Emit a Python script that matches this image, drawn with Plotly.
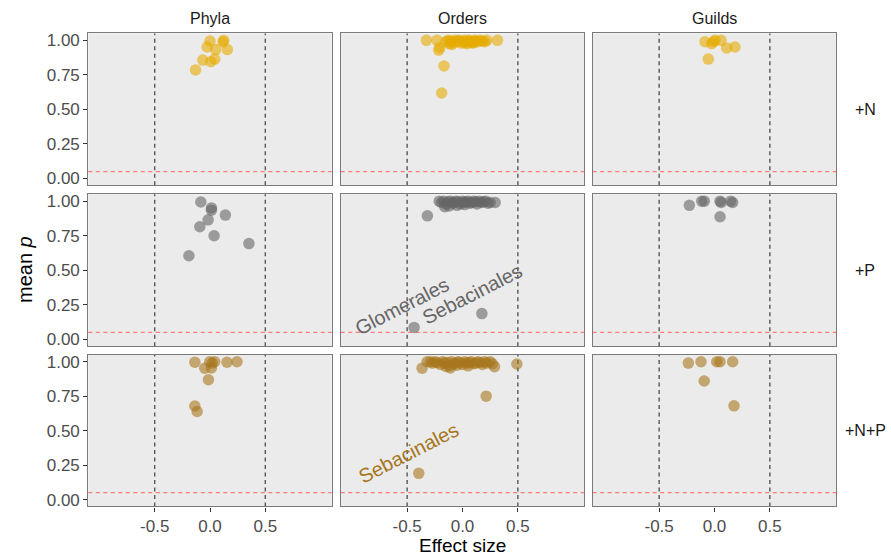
import plotly.graph_objects as go
from plotly.subplots import make_subplots

# ---------------- data ----------------
columns = ["Phyla", "Orders", "Guilds"]
rows = ["+N", "+P", "+N+P"]
row_colors = ["#E6AB02", "#666666", "#A6761D"]

phyla_N_x = [0.00, 0.124, -0.026, 0.118, 0.052, 0.157, -0.065, 0.043, 0.007, -0.131]
phyla_N_y = [0.995, 1.0, 0.952, 0.988, 0.933, 0.933, 0.857, 0.864, 0.845, 0.786]

orders_N_x = [-0.326, -0.23, -0.206, -0.215, -0.167, -0.188, -0.095, 0.316, -0.15, -0.13, -0.11,
              -0.09, -0.07, -0.06, -0.04, -0.03, -0.01, 0.0, 0.02, 0.03, 0.05, 0.06, 0.08, 0.09,
              0.11, 0.12, 0.14, 0.16, 0.18, 0.2, 0.22, -0.12, 0.04, 0.1]
orders_N_y = [1.0, 1.0, 0.947, 0.928, 0.814, 0.619, 0.97, 1.0, 0.99, 1.0, 0.995,
              0.985, 1.0, 0.99, 0.995, 1.0, 0.98, 0.99, 1.0, 0.985, 0.995, 1.0, 0.99, 0.98,
              1.0, 0.995, 0.99, 1.0, 0.995, 0.99, 1.0, 0.975, 0.975, 0.985]

guilds_N_x = [-0.086, -0.026, 0.005, 0.059, -0.01, 0.11, 0.185, -0.056]
guilds_N_y = [0.99, 0.976, 1.0, 1.0, 0.99, 0.945, 0.952, 0.864]

phyla_P_x = [-0.083, 0.013, 0.013, -0.017, -0.092, 0.139, 0.037, 0.352, -0.191]
phyla_P_y = [0.994, 0.951, 0.935, 0.865, 0.815, 0.899, 0.75, 0.693, 0.605]

orders_P_x = [-0.317, -0.437, 0.175, -0.21, -0.19, -0.17, -0.15, -0.13, -0.11, -0.09, -0.08,
              -0.06, -0.04, -0.02, 0.0, 0.01, 0.03, 0.05, 0.07, 0.08, 0.1, 0.12, 0.13, 0.15,
              0.17, 0.19, 0.21, 0.23, 0.25, 0.295, -0.16, -0.12, -0.05, 0.02]
orders_P_y = [0.894, 0.086, 0.186, 1.0, 0.99, 1.0, 0.98, 0.995, 1.0, 0.985, 0.99,
              1.0, 0.995, 0.98, 1.0, 0.99, 0.995, 1.0, 0.985, 0.99, 1.0, 0.995, 0.98, 1.0,
              0.99, 0.995, 1.0, 0.985, 0.99, 0.99, 0.96, 0.965, 0.97, 0.975]

guilds_P_x = [-0.227, -0.115, -0.092, 0.05, 0.06, 0.146, 0.164, 0.05]
guilds_P_y = [0.97, 1.0, 1.0, 1.0, 0.99, 1.0, 0.99, 0.887]

phyla_NP_x = [-0.137, -0.002, 0.043, 0.013, -0.047, 0.154, 0.244, -0.014, -0.137, -0.116, 0.02]
phyla_NP_y = [0.996, 1.0, 1.0, 0.955, 0.953, 0.996, 1.0, 0.869, 0.679, 0.639, 0.99]

orders_NP_x = [-0.365, -0.32, 0.289, 0.491, -0.11, 0.214, -0.395, -0.29, -0.27, -0.25, -0.23,
               -0.2, -0.18, -0.16, -0.14, -0.12, -0.1, -0.08, -0.06, -0.04, -0.02, 0.0, 0.02,
               0.04, 0.06, 0.08, 0.1, 0.12, 0.14, 0.16, 0.18, 0.2, 0.22, 0.25, 0.27, -0.15,
               -0.05, 0.05]
orders_NP_y = [0.953, 1.0, 0.964, 0.983, 0.955, 0.75, 0.19, 1.0, 0.99, 1.0, 0.995,
               0.98, 1.0, 0.99, 0.995, 0.97, 1.0, 0.985, 0.99, 1.0, 0.995, 0.98, 1.0,
               0.99, 0.995, 1.0, 0.985, 0.99, 1.0, 0.995, 0.98, 1.0, 0.99, 1.0, 0.985, 0.965,
               0.975, 0.97]

guilds_NP_x = [-0.236, -0.122, 0.02, 0.05, 0.164, -0.093, 0.176]
guilds_NP_y = [0.99, 1.0, 1.0, 1.0, 1.0, 0.86, 0.68]

panel_data = [
    [(phyla_N_x, phyla_N_y), (orders_N_x, orders_N_y), (guilds_N_x, guilds_N_y)],
    [(phyla_P_x, phyla_P_y), (orders_P_x, orders_P_y), (guilds_P_x, guilds_P_y)],
    [(phyla_NP_x, phyla_NP_y), (orders_NP_x, orders_NP_y), (guilds_NP_x, guilds_NP_y)],
]

# labelled outliers: (row, col, text, x, y)
labels = [
    (1, 1, "Glomerales", -0.542, 0.239),
    (1, 1, "Sebacinales", 0.088, 0.325),
    (2, 1, "Sebacinales", -0.488, 0.34),
]

effect_thresholds = [-0.5, 0.5]
p_threshold = 0.05
x_ticks = [-0.5, 0.0, 0.5]
y_ticks = [0.0, 0.25, 0.5, 0.75, 1.0]

# ---------------- layout geometry ----------------
W, H = 891, 559
col_px = [(88.3, 331.7), (340.7, 584.3), (592.7, 836.3)]
row_px = [(31.7, 185.0), (194.0, 347.3), (356.0, 509.0)]
FONT = "Liberation Sans, Arial, Helvetica, sans-serif"

fig = make_subplots(rows=3, cols=3)

for r in range(3):
    for c in range(3):
        xs, ys = panel_data[r][c]
        fig.add_trace(go.Scatter(
            x=xs, y=ys, mode="markers",
            marker=dict(size=11.5, color=row_colors[r], opacity=0.6, line=dict(width=0)),
            showlegend=False, hoverinfo="x+y"), row=r + 1, col=c + 1)
        idx = r * 3 + c + 1
        xref = "x" if idx == 1 else f"x{idx}"
        yref = "y" if idx == 1 else f"y{idx}"
        for t in effect_thresholds:
            fig.add_shape(type="line", xref=xref, yref=f"{yref} domain", x0=t, x1=t, y0=0, y1=1,
                          line=dict(color="#555555", width=1.4, dash="4px,3.5px"), layer="below")
        fig.add_shape(type="line", xref=f"{xref} domain", yref=yref, x0=0, x1=1,
                      y0=p_threshold, y1=p_threshold,
                      line=dict(color="#FF7A7A", width=1.3, dash="4px,3.5px"), layer="below")

for r in range(3):
    for c in range(3):
        idx = r * 3 + c + 1
        xa = "xaxis" if idx == 1 else f"xaxis{idx}"
        ya = "yaxis" if idx == 1 else f"yaxis{idx}"
        x0, x1 = col_px[c]
        y0, y1 = row_px[r]
        fig.layout[xa].update(
            domain=[x0 / W, x1 / W], range=[-1.1, 1.1], showgrid=False, zeroline=False,
            showline=True, mirror=True, linecolor="#7a7a7a", linewidth=1.2,
            tickvals=x_ticks, ticktext=["-0.5", "0.0", "0.5"],
            ticks="outside" if r == 2 else "", ticklen=4, tickcolor="#333333",
            showticklabels=(r == 2), tickfont=dict(size=17, color="#4D4D4D", family=FONT))
        fig.layout[ya].update(
            domain=[1 - y1 / H, 1 - y0 / H], range=[-0.05, 1.05], showgrid=False, zeroline=False,
            showline=True, mirror=True, linecolor="#7a7a7a", linewidth=1.2,
            tickvals=y_ticks, ticktext=["0.00", "0.25", "0.50", "0.75", "1.00"],
            ticks="outside" if c == 0 else "", ticklen=4, tickcolor="#333333",
            showticklabels=(c == 0), tickfont=dict(size=17, color="#4D4D4D", family=FONT))

annotations = []
for c, name in enumerate(columns):
    x0, x1 = col_px[c]
    annotations.append(dict(text=name, x=(x0 + x1) / 2 / W, y=1 - 17 / H, xref="paper", yref="paper",
                            xanchor="center", yanchor="middle",
                            showarrow=False, font=dict(size=16, color="#1A1A1A", family=FONT)))
for r, name in enumerate(rows):
    y0, y1 = row_px[r]
    annotations.append(dict(text=name, x=865 / W, y=1 - (y0 + y1) / 2 / H, xref="paper", yref="paper",
                            xanchor="center", yanchor="middle",
                            showarrow=False, font=dict(size=16, color="#1A1A1A", family=FONT)))
for (r, c, txt, lx, ly) in labels:
    idx = r * 3 + c + 1
    annotations.append(dict(text=txt, x=lx, y=ly, xref=f"x{idx}", yref=f"y{idx}", showarrow=False,
                            xanchor="center", yanchor="middle",
                            textangle=-27, font=dict(size=20, color=row_colors[r], family=FONT)))
annotations.append(dict(text="mean <i>p</i>", x=25 / W, y=1 - 270.4 / H, xref="paper", yref="paper",
                        xanchor="center", yanchor="middle",
                        showarrow=False, textangle=-90, font=dict(size=20, color="#000000", family=FONT)))
annotations.append(dict(text="Effect size", x=462.3 / W, y=1 - 548.5 / H, xref="paper", yref="paper",
                        xanchor="center", yanchor="middle",
                        showarrow=False, font=dict(size=19, color="#000000", family=FONT)))

fig.update_layout(
    width=W, height=H, margin=dict(l=0, r=0, t=0, b=0),
    paper_bgcolor="white", plot_bgcolor="#EBEBEB",
    annotations=annotations, showlegend=False,
    font=dict(family=FONT),
)

fig.write_html("out.html")
